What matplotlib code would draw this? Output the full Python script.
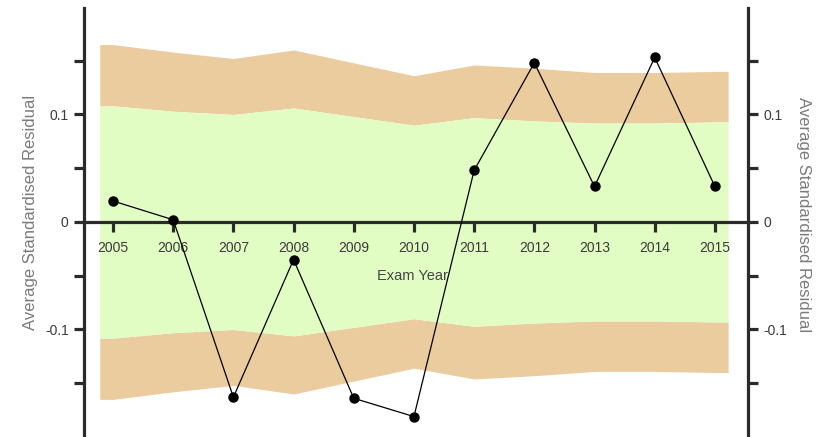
import numpy as np
import matplotlib.pyplot as plt

# exam years and the average standardised residual per year
years = [2005, 2006, 2007, 2008, 2009, 2010, 2011, 2012, 2013, 2014, 2015]
residual = [0.0195, 0.002, -0.163, -0.035, -0.164, -0.181, 0.048, 0.148, 0.033, 0.153, 0.033]

# control limits (symmetric about zero)
inner_limit = [0.108, 0.103, 0.100, 0.106, 0.098, 0.090, 0.097, 0.094, 0.092, 0.092, 0.093]
outer_limit = [0.165, 0.158, 0.152, 0.160, 0.148, 0.136, 0.146, 0.143, 0.139, 0.139, 0.140]

plt.rcParams['font.family'] = ['Liberation Sans', 'DejaVu Sans']

fig = plt.figure(figsize=(8.21, 4.37), dpi=100)
ax = fig.add_axes([84 / 821, 0, 664 / 821, 429 / 437])

# bands run a little past the first and last year
pad = 0.22
bx = np.concatenate([[years[0] - pad], years, [years[-1] + pad]])
inner = np.array([inner_limit[0]] + inner_limit + [inner_limit[-1]])
outer = np.array([outer_limit[0]] + outer_limit + [outer_limit[-1]])

tan = '#EBCC9F'
green = '#E2FDC3'
ax.fill_between(bx, inner, outer, color=tan, lw=0, zorder=1)
ax.fill_between(bx, -outer, -inner, color=tan, lw=0, zorder=1)
ax.fill_between(bx, -inner, inner, color=green, lw=0, zorder=1)

ax.plot(years, residual, color='black', lw=0.9, marker='o', ms=6.5, zorder=4)

ax.set_xlim(2004.518, 2015.55)
ax.set_ylim(-0.2, 0.199)

# axis lines
axis_col = '#2b2b2b'
ax.spines['top'].set_visible(False)
ax.spines['bottom'].set_position(('data', 0))
for side in ['left', 'right', 'bottom']:
    ax.spines[side].set_linewidth(2.3)
    ax.spines[side].set_color(axis_col)
    ax.spines[side].set_zorder(3)

ax.set_xticks(years)
ax.set_xticklabels([str(y) for y in years])
ax.tick_params(axis='x', direction='out', length=7, width=2.3, color=axis_col,
               labelsize=10, labelcolor='#3a3a3a', pad=7)

yt = [-0.15, -0.1, -0.05, 0, 0.05, 0.1, 0.15]
ylab = ['', '-0.1', '', '0', '', '0.1', '']
ax.set_yticks(yt)
ax.set_yticklabels(ylab)
ax.tick_params(axis='y', direction='out', length=7, width=2.3, color=axis_col,
               labelsize=10, labelcolor='#3a3a3a', pad=4,
               right=True, labelright=True)

ax.set_xlabel('Exam Year', fontsize=10.5, color='#444444')
ax.xaxis.set_label_coords(0.494, 0.392)

fig.text(30 / 821, 1 - 212 / 437, 'Average Standardised Residual', rotation=90,
         ha='center', va='center', fontsize=12, color='#7a7a7a')
fig.text(803 / 821, 1 - 215 / 437, 'Average Standardised Residual', rotation=270,
         ha='center', va='center', fontsize=12, color='#7a7a7a')

fig.savefig('out.png', dpi=100)
